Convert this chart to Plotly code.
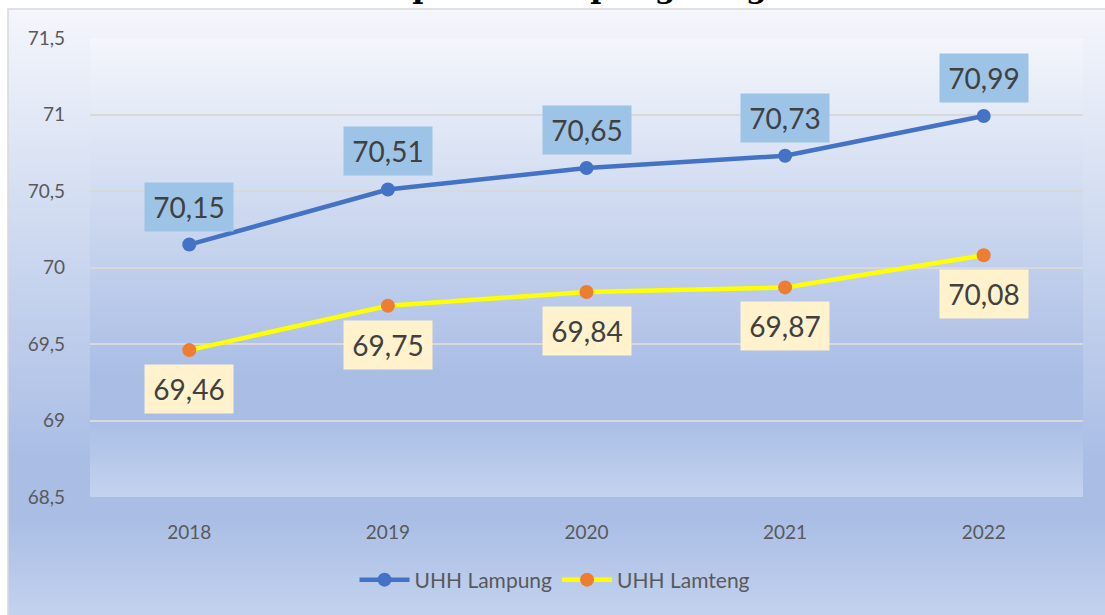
import plotly.graph_objects as go

years = ["2018", "2019", "2020", "2021", "2022"]
uhh_lampung = [70.15, 70.51, 70.65, 70.73, 70.99]
uhh_lamteng = [69.46, 69.75, 69.84, 69.87, 70.08]
y_ticks = [68.5, 69, 69.5, 70, 70.5, 71, 71.5]

W, H = 1105, 615
L, R, T, B = 90, 22, 38, 118
PW, PH = W - L - R, H - T - B


def px(x):
    return (x - L) / PW


def py(y):
    return (H - B - y) / PH


STOPS = [(0.0, (244, 246, 251)), (0.74, (169, 189, 229)), (0.83, (169, 189, 229)), (1.0, (196, 211, 238))]


def col_at(f):
    for (f0, c0), (f1, c1) in zip(STOPS[:-1], STOPS[1:]):
        if f <= f1:
            t = 0 if f1 == f0 else (f - f0) / (f1 - f0)
            return "rgb(%d,%d,%d)" % tuple(round(a + (b - a) * t) for a, b in zip(c0, c1))
    return "rgb(%d,%d,%d)" % STOPS[-1][1]


def gradient(x0, x1, y0, y1, step=3):
    shapes = []
    y = y0
    while y < y1:
        ye = min(y + step + 0.6, y1)
        f = (y + step / 2 - y0) / (y1 - y0)
        shapes.append(dict(type="rect", xref="paper", yref="paper", layer="below",
                           x0=px(x0), x1=px(x1), y0=py(y), y1=py(ye),
                           fillcolor=col_at(min(f, 1)), line=dict(width=0)))
        y += step
    return shapes


shapes = gradient(8, W + 5, 9, H + 5) + gradient(L, W - R, T, H - B)
shapes.append(dict(type="rect", xref="paper", yref="paper", layer="below",
                   x0=px(8), x1=px(W + 5), y0=py(9), y1=py(H + 5),
                   fillcolor="rgba(0,0,0,0)", line=dict(color="#D9D9D9", width=1.5)))

fig = go.Figure()
fig.add_trace(go.Scatter(x=years, y=uhh_lampung, name="UHH Lampung", mode="lines+markers",
                         line=dict(color="#4472C4", width=4.5),
                         marker=dict(color="#4472C4", size=14)))
fig.add_trace(go.Scatter(x=years, y=uhh_lamteng, name="UHH Lamteng", mode="lines+markers",
                         line=dict(color="#FFFF00", width=4.5),
                         marker=dict(color="#ED7D31", size=14)))

ann = []
for i, v in enumerate(uhh_lampung):
    ann.append(dict(x=i, y=v, xref="x", yref="y", text=f"{v:.2f}".replace(".", ","),
                    showarrow=False, yshift=38, yanchor="middle", bgcolor="#9DC3E6",
                    width=76, height=36, borderpad=6,
                    font=dict(family="Lato", size=28, color="#404040")))
for i, v in enumerate(uhh_lamteng):
    ann.append(dict(x=i, y=v, xref="x", yref="y", text=f"{v:.2f}".replace(".", ","),
                    showarrow=False, yshift=-39, yanchor="middle", bgcolor="#FFF2CC",
                    width=76, height=36, borderpad=6,
                    font=dict(family="Lato", size=28, color="#404040")))
ann.append(dict(x=px(566), xref="paper", y=py(7), yref="paper", yanchor="bottom",
                text="<b>Kabupaten Lampung Tengah</b>", showarrow=False,
                font=dict(family="DejaVu Serif", size=30, color="#000000")))

fig.update_layout(
    width=W, height=H,
    margin=dict(l=L, r=R, t=T, b=B, pad=0),
    paper_bgcolor="white", plot_bgcolor="rgba(0,0,0,0)",
    separators=",.",
    shapes=shapes, annotations=ann,
    font=dict(family="Lato", size=19, color="#595959"),
    showlegend=True,
    legend=dict(orientation="h", x=px(555), xanchor="center", y=py(580), yanchor="middle",
                bgcolor="rgba(0,0,0,0)", font=dict(family="Lato", size=21, color="#595959"),
                itemwidth=50),
)
fig.update_xaxes(type="category", range=[-0.5, 4.5], showgrid=False, zeroline=False,
                 showline=False, ticks="", ticklabelstandoff=22,
                 tickfont=dict(family="Lato", size=19, color="#595959"))
fig.update_yaxes(range=[68.5, 71.5], tickvals=y_ticks, showgrid=True, gridcolor="#D9D9D9",
                 gridwidth=1.5, zeroline=False, showline=False, ticks="",
                 ticklabelstandoff=24, tickfont=dict(family="Lato", size=19, color="#595959"))

fig.write_html("out.html", config={"displayModeBar": False},
               post_script="document.body.style.margin='0';document.body.style.overflow='hidden';")
